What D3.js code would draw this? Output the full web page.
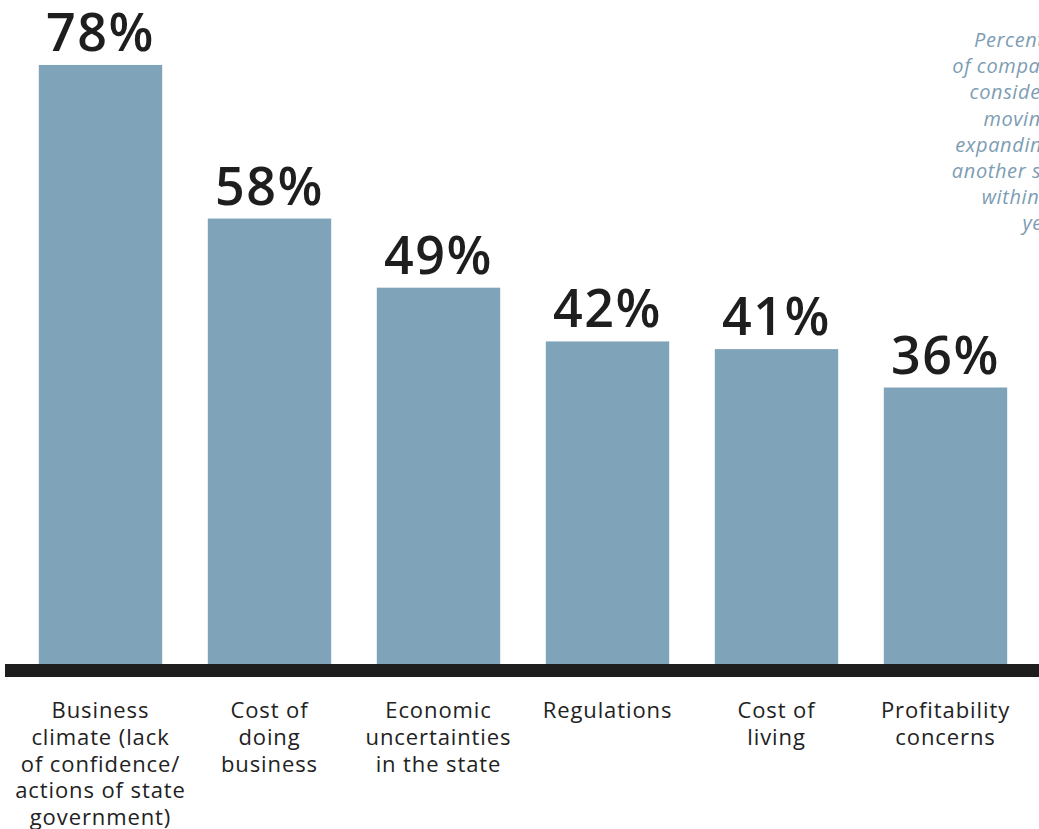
<!DOCTYPE html>
<html>
<head>
<meta charset="utf-8">
<script src="https://cdn.jsdelivr.net/npm/d3@7"></script>
<style>
  body { margin: 0; background: #fff; }
  svg { display: block; }
</style>
</head>
<body>
<svg width="1039" height="829"></svg>
<script>
// values
const categories = [
    ['Business', 'climate (lack', 'of confidence/', 'actions of state', 'government)'],
    ['Cost of', 'doing', 'business'],
    ['Economic', 'uncertainties', 'in the state'],
    ['Regulations'],
    ['Cost of', 'living'],
    ['Profitability', 'concerns']
]
const values = [78, 58, 49, 42, 41, 36]
const note = ['Percentage', 'of companies', 'considering', 'moving or', 'expanding to', 'another state', 'within five', 'years.']

const svg = d3.select('svg')

let x = d3.scaleBand()
    .domain(d3.range(values.length))
    .range([16, 1030])
    .paddingInner(0.27)
    .paddingOuter(0.135)

let y = d3.scaleLinear()
    .domain([0, 100])
    .range([664, -104])

// bars
svg.selectAll('rect.bar')
    .data(values)
    .enter()
    .append('rect')
    .attr('class', 'bar')
    .attr('x', (d, i) => x(i))
    .attr('width', x.bandwidth())
    .attr('y', d => y(d))
    .attr('height', d => y(0) - y(d))
    .attr('fill', '#7fa3b8')

// baseline
svg.append('rect')
    .attr('x', 5)
    .attr('y', y(0))
    .attr('width', 1034)
    .attr('height', 13)
    .attr('fill', '#1e1e1e')

// value labels
svg.selectAll('text.value')
    .data(values)
    .enter()
    .append('text')
    .attr('class', 'value')
    .attr('x', (d, i) => x(i) + x.bandwidth() / 2)
    .attr('y', d => y(d) - 14)
    .attr('text-anchor', 'middle')
    .attr('font-family', 'Open Sans, sans-serif')
    .attr('font-weight', 600)
    .attr('font-size', 52)
    .attr('letter-spacing', 1.5)
    .attr('fill', '#1e1e1e')
    .text(d => d + '%')

// category labels
let cat = svg.selectAll('text.cat')
    .data(categories)
    .enter()
    .append('text')
    .attr('class', 'cat')
    .attr('x', (d, i) => x(i) + x.bandwidth() / 2)
    .attr('y', 718)
    .attr('text-anchor', 'middle')
    .attr('font-family', 'Open Sans, sans-serif')
    .attr('font-size', 22)
    .attr('letter-spacing', 0.9)
    .attr('fill', '#222')

cat.selectAll('tspan')
    .data((d, i) => d.map(t => ({t, i})))
    .enter()
    .append('tspan')
    .attr('x', d => x(d.i) + x.bandwidth() / 2)
    .attr('dy', (d, j) => j == 0 ? 0 : 26.8)
    .text(d => d.t)

// side note, right aligned past the edge
svg.append('text')
    .attr('y', 47)
    .attr('text-anchor', 'end')
    .attr('font-family', 'Open Sans, sans-serif')
    .attr('font-style', 'italic')
    .attr('font-size', 20)
    .attr('letter-spacing', 0.6)
    .attr('fill', '#7d9db3')
    .selectAll('tspan')
    .data(note)
    .enter()
    .append('tspan')
    .attr('x', 1078)
    .attr('dy', (d, j) => j == 0 ? 0 : 26.2)
    .text(d => d)
</script>
</body>
</html>
